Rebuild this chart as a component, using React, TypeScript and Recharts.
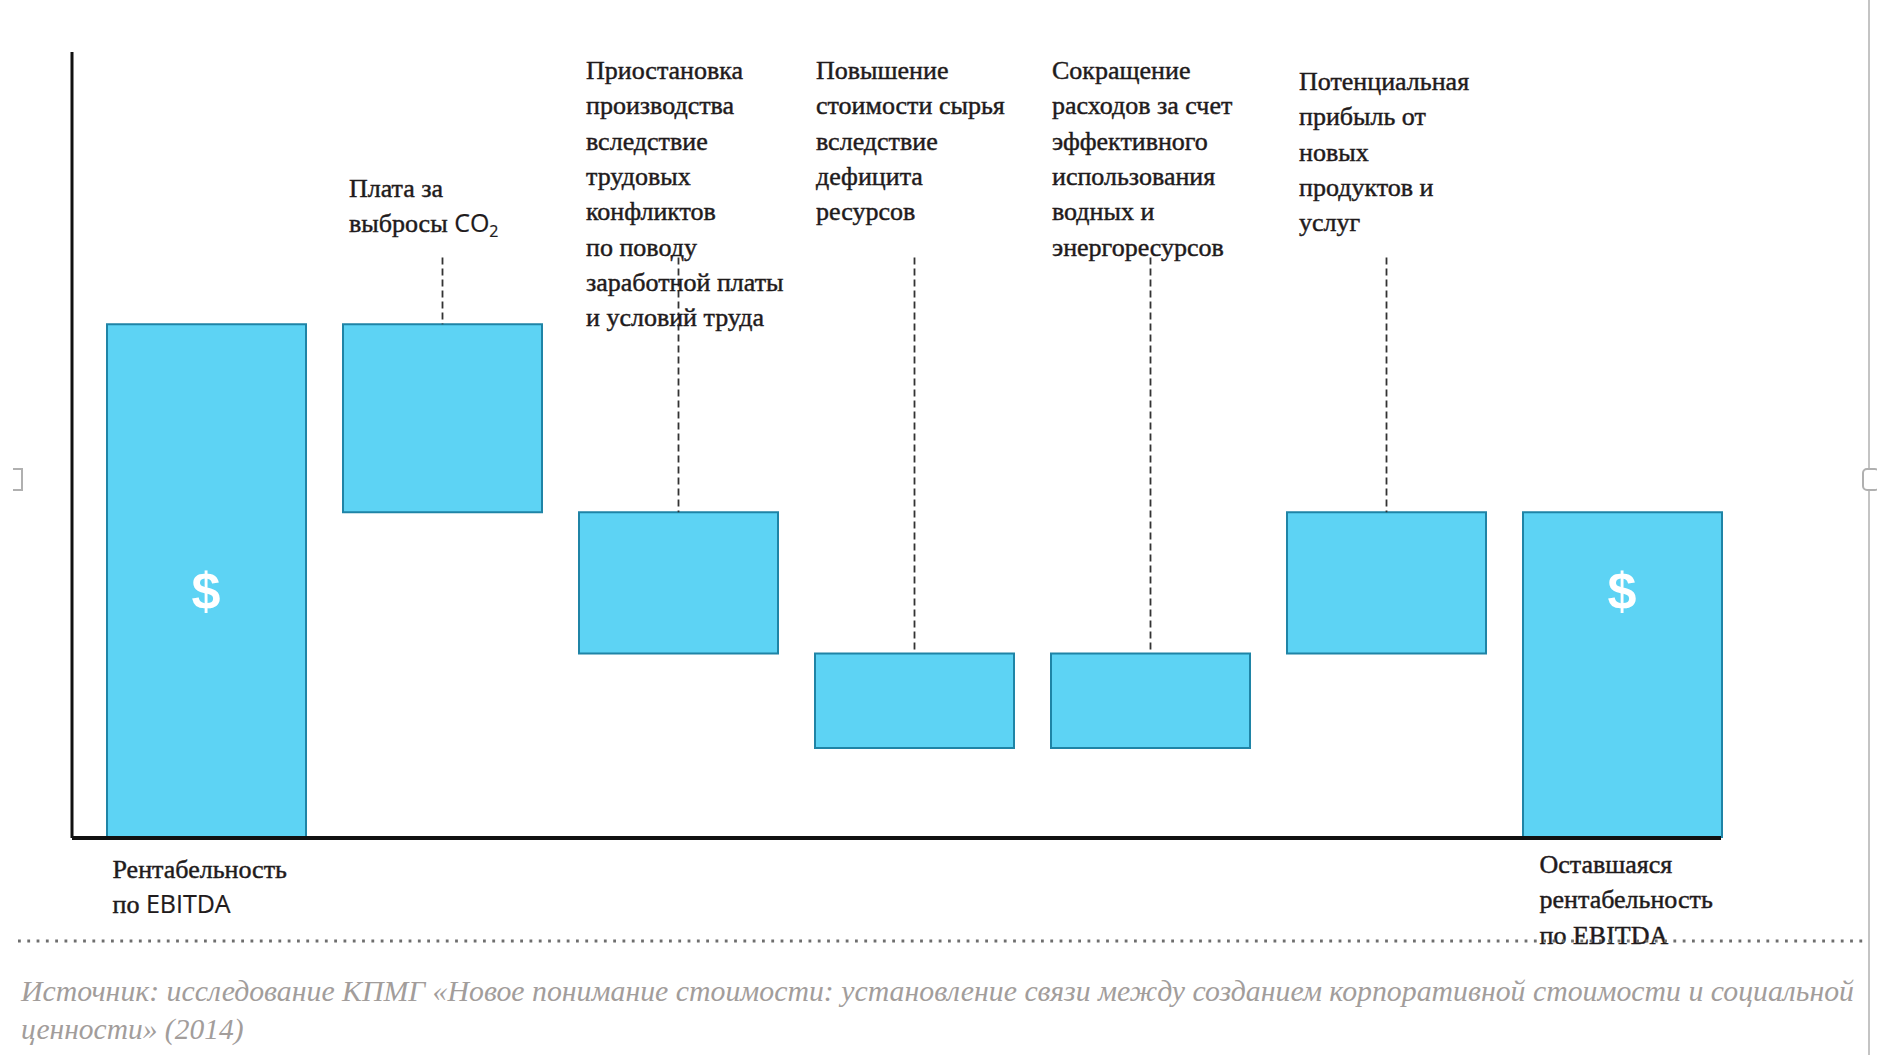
import React from 'react'
import { ComposedChart, Bar, Line, XAxis, YAxis } from 'recharts'

// waterfall steps (arbitrary units, first bar = 100)
const categories = ['ebitda', 'co2', 'labor', 'resources', 'efficiency', 'products', 'remaining']
const barBottoms = [0, 63.4, 35.9, 17.5, 17.5, 35.9, 0]
const barTops = [100, 100, 63.4, 35.9, 35.9, 63.4, 63.4]
const leaderTops = [null, 113, 113, 113, 113, 113, null]
const dollarMarks = [48, null, null, null, null, null, 48]

const topLabels: (string[] | null)[] = [
  null,
  ['Плата за', 'выбросы CO₂'],
  ['Приостановка', 'производства', 'вследствие', 'трудовых', 'конфликтов', 'по поводу', 'заработной платы', 'и условий труда'],
  ['Повышение', 'стоимости сырья', 'вследствие', 'дефицита', 'ресурсов'],
  ['Сокращение', 'расходов за счет', 'эффективного', 'использования', 'водных и', 'энергоресурсов'],
  ['Потенциальная', 'прибыль от', 'новых', 'продуктов и', 'услуг'],
  null,
]
const bottomLabels: (string[] | null)[] = [
  ['Рентабельность', 'по EBITDA'],
  null, null, null, null, null,
  ['Оставшаяся', 'рентабельность', 'по EBITDA'],
]
const sourceLines = [
  'Источник: исследование КПМГ «Новое понимание стоимости: установление связи между созданием корпоративной стоимости и социальной',
  'ценности» (2014)',
]

const data = categories.map((name, i) => ({
  name,
  i,
  base: barBottoms[i],
  step: barTops[i] - barBottoms[i],
  leader: leaderTops[i] == null ? 0 : (leaderTops[i] as number) - barTops[i],
  dollar: dollarMarks[i],
}))

// label placement (px)
const topLabelDx = [0, 6, 7, 1, 1, 12, 0]
const topLabelY = [0, 197, 79, 79, 79, 90, 0]
const bottomLabelDx = [6, 0, 0, 0, 0, 0, 17]
const bottomLabelDy = [40, 0, 0, 0, 0, 0, 35]
const sansLabels = [true, true, false, false, false, false, false]
const LINE_H = 35.3
const BAR_W = 199

const serif = '"Liberation Serif", "DejaVu Serif", serif'
const sans = '"Open Sans", "Liberation Sans", sans-serif'
const ink = '#1f1b1c'

function richLine(line: string, useSans: boolean) {
  if (!useSans) return line
  const parts = line.split(/(EBITDA|CO₂)/)
  return parts.map((p, k) => {
    if (p === 'EBITDA') return <tspan key={k} fontFamily={sans} fontSize={25} strokeWidth={0.2}>{p}</tspan>
    if (p === 'CO₂')
      return (
        <tspan key={k} fontFamily={sans} fontSize={25} strokeWidth={0.2}>
          CO<tspan fontSize={16} dy={5}>2</tspan>
        </tspan>
      )
    return <tspan key={k}>{p}</tspan>
  })
}

const LeaderShape = (props: any) => {
  const { x, y, width, height, payload } = props
  const i = payload.i
  const cx = x + width / 2
  const lines = topLabels[i]
  return (
    <g>
      {height > 0 && (
        <line x1={cx} x2={cx} y1={y} y2={y + height} stroke="#333" strokeWidth={1.8} strokeDasharray="7 4" />
      )}
      {lines && (
        <text fontFamily={serif} fontSize={26} fill={ink} stroke={ink} strokeWidth={0.45}>
          {lines.map((l, k) => (
            <tspan key={k} x={x + topLabelDx[i]} y={topLabelY[i] + k * LINE_H}>
              {richLine(l, sansLabels[i])}
            </tspan>
          ))}
        </text>
      )}
    </g>
  )
}

const BottomTick = (props: any) => {
  const { x, y, payload } = props
  const i = categories.indexOf(payload.value)
  const lines = bottomLabels[i]
  if (!lines) return <g />
  const left = x - BAR_W / 2 + bottomLabelDx[i]
  return (
    <text fontFamily={serif} fontSize={26} fill={ink} stroke={ink} strokeWidth={0.45}>
      {lines.map((l, k) => (
        <tspan key={k} x={left} y={y + bottomLabelDy[i] + k * LINE_H}>
          {richLine(l, sansLabels[i])}
        </tspan>
      ))}
    </text>
  )
}

const DollarDot = (props: any) => {
  const { cx, cy, index } = props
  if (cx == null || cy == null || props.value == null) return <g key={index} />
  return (
    <text key={index} x={cx} y={cy + 18} textAnchor="middle" fontFamily='"Liberation Sans", Arial, sans-serif'
      fontWeight="bold" fontSize={52} fill="#ffffff">
      $
    </text>
  )
}

export default function App() {
  return (
    <div style={{ position: 'absolute', left: 0, top: 0, width: 1877, height: 1055, background: '#fff' }}>
      <ComposedChart width={1877} height={1055} data={data}
        margin={{ top: 52, right: 156, bottom: 97, left: 71 }} barSize={BAR_W}>
        <XAxis dataKey="name" type="category" height={120} interval={0} tickLine={false} tickSize={0}
          tickMargin={0} padding={{ left: 16, right: -19 }} axisLine={{ stroke: '#111', strokeWidth: 4 }}
          tick={<BottomTick />} />
        <YAxis type="number" domain={[0, 153]} width={1} tick={false} tickLine={false}
          axisLine={{ stroke: '#111', strokeWidth: 3 }} allowDataOverflow />
        <Bar dataKey="base" stackId="w" fill="transparent" isAnimationActive={false} />
        <Bar dataKey="step" stackId="w" fill="#5dd3f4" stroke="#1f84a6" strokeWidth={2} isAnimationActive={false} />
        <Bar dataKey="leader" stackId="w" shape={<LeaderShape />} isAnimationActive={false} />
        <Line dataKey="dollar" stroke="none" dot={DollarDot} activeDot={false} legendType="none"
          isAnimationActive={false} />
      </ComposedChart>
      <svg width={1877} height={1055} style={{ position: 'absolute', left: 0, top: 0, pointerEvents: 'none' }}>
        <line x1={18} x2={1866} y1={941} y2={941} stroke="#6e6e6e" strokeWidth={3} strokeDasharray="2.8 6.5" />
        <line x1={1869} x2={1869} y1={0} y2={1055} stroke="#c4c4c4" strokeWidth={2} />
        <path d="M13 469 H22 V490 H13" fill="none" stroke="#b0b0b0" strokeWidth={2} />
        <rect x={1863} y={469} width={16} height={21} rx={4} fill="#fff" stroke="#b0b0b0" strokeWidth={2} />
        <text fontFamily={serif} fontStyle="italic" fontSize={29.5} fill="#a29d9b">
          <tspan x={21} y={1001} textLength={1833} lengthAdjust="spacingAndGlyphs">{sourceLines[0]}</tspan>
          <tspan x={21} y={1039}>{sourceLines[1]}</tspan>
        </text>
      </svg>
    </div>
  )
}
